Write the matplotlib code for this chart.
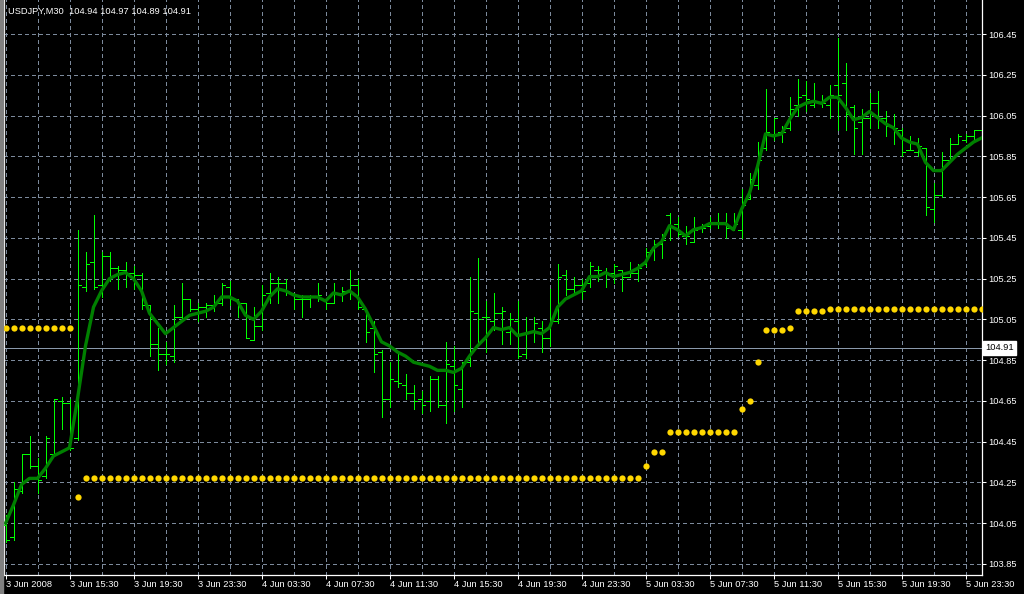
import matplotlib.pyplot as plt
from matplotlib.patches import Rectangle

plt.rcParams['font.family'] = ['Liberation Sans', 'DejaVu Sans']

# USDJPY M30 bars, 3 Jun 2008 11:30 onwards
opens = [104.04, 103.98, 104.21, 104.39, 104.33, 104.28, 104.39, 104.65, 104.64, 104.47,
         105.21, 105.33, 105.22, 105.36, 105.30, 105.29, 105.28, 105.27, 105.12, 104.93,
         104.88, 104.87, 105.06, 105.15, 105.10, 105.11, 105.12, 105.13, 105.21, 105.15,
         105.13, 104.95, 105.02, 105.18, 105.23, 105.23, 105.18, 105.15, 105.15, 105.16,
         105.15, 105.13, 105.18, 105.19, 105.22, 105.10, 105.01, 104.89, 104.66, 104.75,
         104.73, 104.69, 104.66, 104.65, 104.76, 104.63, 104.82, 104.71, 104.84, 105.08,
         105.06, 105.04, 105.08, 104.99, 105.04, 104.88, 104.99, 105.01, 104.96, 105.04,
         105.27, 105.20, 105.22, 105.23, 105.29, 105.28, 105.28, 105.29, 105.26, 105.28,
         105.32, 105.39, 105.42, 105.56, 105.52, 105.46, 105.43, 105.50, 105.51, 105.53,
         105.52, 105.50, 105.49, 105.64, 105.71, 105.89, 105.96, 105.97, 105.99, 106.10,
         106.15, 106.10, 106.11, 106.10, 106.20, 106.21, 106.09, 106.02, 106.04, 106.11,
         106.04, 106.00, 105.98, 105.88, 105.87, 105.89, 105.59, 105.66, 105.83, 105.91,
         105.93, 105.95, 105.98]
highs = [104.09, 104.25, 104.39, 104.48, 104.37, 104.48, 104.66, 104.67, 104.66, 105.49,
         105.38, 105.56, 105.38, 105.38, 105.31, 105.33, 105.31, 105.28, 105.12, 105.01,
         104.94, 105.12, 105.23, 105.15, 105.13, 105.13, 105.17, 105.23, 105.24, 105.15,
         105.13, 105.11, 105.22, 105.28, 105.26, 105.25, 105.18, 105.17, 105.17, 105.23,
         105.15, 105.23, 105.21, 105.29, 105.25, 105.10, 105.04, 104.90, 104.84, 104.88,
         104.78, 104.73, 104.70, 104.77, 104.77, 104.94, 104.92, 104.84, 105.26, 105.35,
         105.14, 105.18, 105.11, 105.08, 105.14, 105.06, 105.06, 105.04, 105.20, 105.32,
         105.29, 105.26, 105.25, 105.33, 105.31, 105.30, 105.32, 105.29, 105.33, 105.32,
         105.40, 105.44, 105.47, 105.57, 105.55, 105.51, 105.55, 105.52, 105.55, 105.57,
         105.57, 105.57, 105.69, 105.77, 105.92, 106.18, 106.04, 106.00, 106.14, 106.23,
         106.22, 106.21, 106.15, 106.20, 106.43, 106.31, 106.10, 106.08, 106.16, 106.17,
         106.07, 106.06, 105.99, 105.95, 105.94, 105.89, 105.72, 105.87, 105.94, 105.96,
         105.96, 105.98, 105.99]
lows = [103.96, 103.97, 104.20, 104.32, 104.20, 104.27, 104.39, 104.51, 104.41, 104.46,
        105.19, 105.20, 105.16, 105.24, 105.20, 105.21, 105.20, 105.10, 104.87, 104.80,
        104.83, 104.84, 105.05, 105.09, 105.04, 105.06, 105.09, 105.12, 105.12, 105.06,
        104.96, 104.95, 105.00, 105.13, 105.13, 105.17, 105.10, 105.06, 105.11, 105.14,
        105.10, 105.13, 105.14, 105.15, 105.10, 104.94, 104.79, 104.57, 104.62, 104.72,
        104.66, 104.61, 104.59, 104.60, 104.62, 104.54, 104.60, 104.62, 104.82, 104.94,
        104.89, 105.00, 104.93, 104.93, 104.86, 104.86, 104.94, 104.89, 104.92, 105.03,
        105.17, 105.18, 105.15, 105.21, 105.24, 105.21, 105.23, 105.19, 105.26, 105.24,
        105.31, 105.34, 105.35, 105.44, 105.46, 105.42, 105.43, 105.48, 105.50, 105.50,
        105.45, 105.49, 105.45, 105.64, 105.69, 105.88, 105.93, 105.92, 105.98, 106.05,
        106.07, 106.09, 106.09, 106.04, 105.98, 105.98, 105.86, 105.86, 105.99, 105.99,
        105.95, 105.91, 105.85, 105.88, 105.85, 105.56, 105.53, 105.65, 105.83, 105.91,
        105.92, 105.92, 105.93]
closes = [103.97, 104.22, 104.39, 104.33, 104.26, 104.47, 104.66, 104.64, 104.42, 105.22,
          105.32, 105.21, 105.36, 105.30, 105.29, 105.28, 105.27, 105.12, 104.93, 104.88,
          104.88, 105.06, 105.15, 105.10, 105.11, 105.12, 105.13, 105.22, 105.15, 105.13,
          104.96, 105.02, 105.17, 105.23, 105.23, 105.19, 105.15, 105.15, 105.16, 105.17,
          105.13, 105.18, 105.19, 105.22, 105.11, 104.99, 104.88, 104.66, 104.76, 104.74,
          104.69, 104.65, 104.63, 104.76, 104.63, 104.83, 104.73, 104.84, 105.09, 105.05,
          105.06, 105.08, 105.09, 105.05, 104.87, 104.99, 105.03, 104.96, 105.04, 105.26,
          105.20, 105.22, 105.19, 105.31, 105.29, 105.28, 105.31, 105.26, 105.28, 105.30,
          105.38, 105.42, 105.44, 105.51, 105.47, 105.46, 105.49, 105.50, 105.53, 105.52,
          105.50, 105.52, 105.61, 105.74, 105.83, 105.97, 106.04, 105.97, 106.08, 106.14,
          106.13, 106.12, 106.11, 106.15, 106.15, 106.06, 105.99, 106.04, 106.11, 106.04,
          106.00, 105.99, 105.87, 105.88, 105.90, 105.60, 105.66, 105.83, 105.91, 105.95,
          105.95, 105.98, 105.98]
ma = [104.05, 104.14, 104.24, 104.27, 104.27, 104.32, 104.38, 104.40, 104.42, 104.66,
      104.92, 105.11, 105.19, 105.25, 105.27, 105.28, 105.25, 105.19, 105.08, 105.03,
      104.98, 105.01, 105.04, 105.07, 105.08, 105.09, 105.11, 105.16, 105.16, 105.14,
      105.07, 105.05, 105.09, 105.16, 105.20, 105.19, 105.17, 105.16, 105.16, 105.16,
      105.14, 105.18, 105.17, 105.19, 105.16, 105.10, 105.02, 104.94, 104.92, 104.89,
      104.87, 104.84, 104.83, 104.82, 104.80, 104.80, 104.79, 104.81, 104.87, 104.92,
      104.96, 105.01, 105.00, 105.01, 104.97, 104.98, 104.99, 104.98, 105.01, 105.11,
      105.15, 105.17, 105.19, 105.26, 105.26, 105.28, 105.26, 105.27, 105.28, 105.30,
      105.33, 105.40, 105.43, 105.51, 105.49, 105.46, 105.49, 105.50, 105.52, 105.52,
      105.52, 105.49, 105.59, 105.67, 105.80, 105.96, 105.95, 105.96, 106.03, 106.09,
      106.11, 106.12, 106.11, 106.14, 106.14, 106.09, 106.03, 106.04, 106.07, 106.04,
      106.01, 105.99, 105.94, 105.92, 105.91, 105.82, 105.78, 105.78, 105.82, 105.86,
      105.89, 105.92, 105.94]
sar = ([105.01] * 9 + [104.18] + [104.27] * 70 + [104.33] + [104.40] * 2
       + [104.50] * 9 + [104.61, 104.65, 104.84] + [105.00] * 3 + [105.01]
       + [105.09] * 4 + [105.10] * 20)

price_levels = [103.85, 104.05, 104.25, 104.45, 104.65, 104.85, 105.05,
                105.25, 105.45, 105.65, 105.85, 106.05, 106.25, 106.45]
time_labels = ['3 Jun 2008', '3 Jun 15:30', '3 Jun 19:30', '3 Jun 23:30',
               '4 Jun 03:30', '4 Jun 07:30', '4 Jun 11:30', '4 Jun 15:30',
               '4 Jun 19:30', '4 Jun 23:30', '5 Jun 03:30', '5 Jun 07:30',
               '5 Jun 11:30', '5 Jun 15:30', '5 Jun 19:30', '5 Jun 23:30']
last_price = 104.91
title = 'USDJPY,M30  104.94 104.97 104.89 104.91'

n = len(closes)
x = list(range(n))
grid_col = '#7c8a9c'
bar_col = '#00ff00'

fig = plt.figure(figsize=(10.24, 5.94), dpi=100, facecolor='black')
fig.patches.append(Rectangle((0, 0), 3 / 1024, 1, transform=fig.transFigure,
                             color='#808080', zorder=0))
ax = fig.add_axes([4 / 1024, 19 / 594, 978 / 1024, 575 / 594], facecolor='black')
# 8 px per bar, bar centres on pixel centres
ax.set_xlim(-0.1875, -0.1875 + 978 / 8)
ax.set_ylim(103.796, 106.617)

# grid
ax.set_yticks(price_levels)
ax.set_yticklabels(['%.2f' % p for p in price_levels])
ax.set_xticks(x[::8][:len(time_labels)])
ax.set_xticklabels(time_labels)
ax.set_xticks(x[::4], minor=True)
ax.grid(True, which='both', color=grid_col, lw=0.72, ls=(0, (3, 3)), antialiased=False)
ax.set_axisbelow(True)

ax.yaxis.tick_right()
ax.tick_params(axis='both', which='major', colors='white', labelcolor='white',
               labelsize=6.7, length=3, width=0.75)
ax.tick_params(axis='y', pad=1.5)
ax.tick_params(axis='x', pad=0.5)
ax.tick_params(which='minor', length=0)
for lab in ax.get_xticklabels():
    lab.set_horizontalalignment('left')

for s in ['left', 'bottom', 'right']:
    ax.spines[s].set_color('white')
    ax.spines[s].set_linewidth(0.9)
ax.spines['top'].set_visible(False)

# bid line
ax.axhline(last_price, color='#8a99ab', lw=0.72, zorder=2, antialiased=False)
ax.text(1.003, last_price, '%.2f' % last_price, transform=ax.get_yaxis_transform(),
        ha='left', va='center', color='black', fontsize=6.7, clip_on=False,
        bbox=dict(boxstyle='square,pad=0.25', fc='white', ec='white'))

# HLC bars
ax.vlines(x, lows, highs, color=bar_col, lw=0.72, zorder=3, antialiased=False)
ax.hlines(opens, [i - 0.4 for i in x], x, color=bar_col, lw=0.72, zorder=3,
          antialiased=False)
ax.hlines(closes, x, [i + 0.4 for i in x], color=bar_col, lw=0.72, zorder=3,
          antialiased=False)

# moving average
ax.plot(x, ma, color='#008000', lw=2.4, solid_joinstyle='round', zorder=4)

# dots
ax.plot(x, sar, 'o', color='#ffd700', ms=4.5, mec='none', zorder=5)

fig.text(8 / 1024, 1 - 11 / 594, title, color='white', fontsize=6.7, va='center')

fig.savefig('out.png', dpi=100, facecolor='black')
